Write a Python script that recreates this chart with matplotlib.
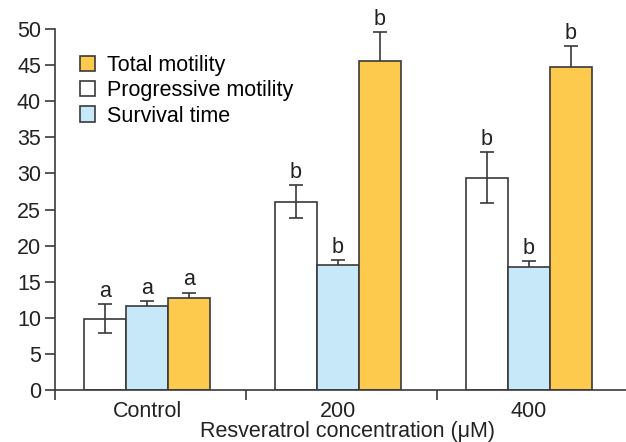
import matplotlib.pyplot as plt
import numpy as np

plt.rcParams['font.family'] = ['Liberation Sans', 'DejaVu Sans']

groups = ['Control', '200', '400']
series = ['Progressive motility', 'Survival time', 'Total motility']
values = {
    'Progressive motility': [9.9, 26.1, 29.4],
    'Survival time': [11.7, 17.3, 17.0],
    'Total motility': [12.7, 45.6, 44.7],
}
errors = {
    'Progressive motility': [2.0, 2.3, 3.5],
    'Survival time': [0.6, 0.7, 0.8],
    'Total motility': [0.8, 4.0, 2.9],
}
letters = {
    'Progressive motility': ['a', 'b', 'b'],
    'Survival time': ['a', 'b', 'b'],
    'Total motility': ['a', 'b', 'b'],
}
colors = {
    'Progressive motility': 'none',
    'Survival time': '#c6e8f8',
    'Total motility': '#fdca4d',
}

edge = '#3a3a3a'
txt = '#222222'
fs = 15.5
fig = plt.figure(figsize=(6.26, 4.42), dpi=100)
ax = fig.add_axes([55 / 626, 1 - 390 / 442, 571 / 626, 361 / 442])

x = np.arange(len(groups))
width = 0.22
offsets = [-width, 0, width]
for s, off in zip(series, offsets):
    ax.bar(x + off, values[s], width, color=colors[s], edgecolor=edge,
           linewidth=1.2, zorder=2)
    ax.errorbar(x + off, values[s], yerr=errors[s], fmt='none', ecolor=edge,
                elinewidth=1.2, capsize=5, capthick=1.2, zorder=1)
    for xi, v, e, t in zip(x + off, values[s], errors[s], letters[s]):
        ax.text(xi, v + e + 0.3, t, ha='center', va='bottom', fontsize=fs,
                color=txt)

ax.set_xlim(-0.482, 2.508)
ax.set_ylim(0, 50)
ax.set_yticks(np.arange(0, 51, 5))
ax.tick_params(axis='y', labelsize=fs, length=7, width=1.2, color=edge,
               labelcolor=txt, pad=3)
ax.set_xticks(x)
ax.set_xticklabels(groups)
ax.tick_params(axis='x', which='major', length=0, labelsize=fs,
               labelcolor=txt, pad=8)
ax.set_xticks([-0.482, 0.518, 1.518], minor=True)
ax.tick_params(axis='x', which='minor', direction='out', length=7, width=1.2,
               color=edge)
ax.set_xlabel('Resveratrol concentration (\u03bcM)', fontsize=fs,
              color=txt, labelpad=-3)
ax.xaxis.set_label_coords(0.512, -0.085)

for side in ['top', 'right']:
    ax.spines[side].set_visible(False)
for side in ['left', 'bottom']:
    ax.spines[side].set_color(edge)
    ax.spines[side].set_linewidth(1.2)
ax.spines['left'].set_bounds(0, 50)

order = ['Total motility', 'Progressive motility', 'Survival time']
handles = [plt.Rectangle((0, 0), 1, 1, facecolor=colors[s], edgecolor=edge,
                         linewidth=1.2) for s in order]
ax.legend(handles, order, loc='upper left', bbox_to_anchor=(0.028, 0.952),
          frameon=False, fontsize=fs, handlelength=0.7, handleheight=0.7,
          handletextpad=0.55, labelspacing=0.2, borderaxespad=0)

fig.savefig('out.png', dpi=100)
